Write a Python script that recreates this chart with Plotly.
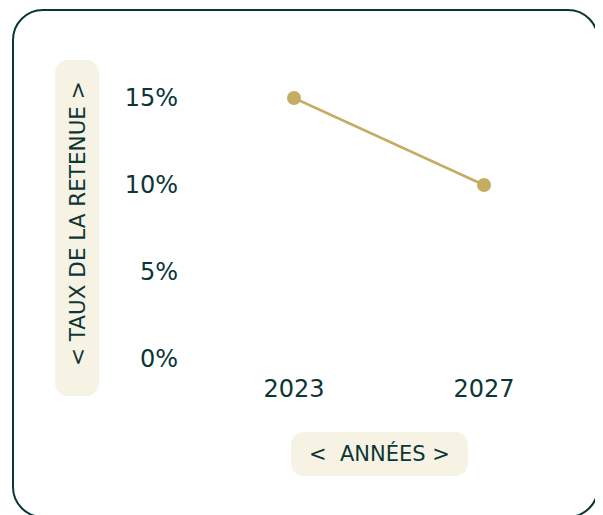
import plotly.graph_objects as go

years = ["2023", "2027"]
rates = [15, 10]
y_ticks = [0, 5, 10, 15]
y_tick_labels = ["0%", "5%", "10%", "15%"]

OFF = 8  # page body margin offset
W, H = 603 - OFF, 515 - OFF
L, R, T, B = 199 - OFF, 24, 98 - OFF, 156
PW, PH = W - L - R, H - T - B

DARK = "#0c3636"
GOLD = "#c4ac63"
CREAM = "#f7f3e4"
FONT = "DejaVu Sans"

def px(x):
    return (x - OFF - L) / PW

def py(y):
    return (H - B - (y - OFF)) / PH

def rrect(x0, y0, x1, y1, r):
    k = 0.5523 * r
    pts = [
        f"M {px(x0 + r)},{py(y0)}",
        f"L {px(x1 - r)},{py(y0)}",
        f"C {px(x1 - r + k)},{py(y0)} {px(x1)},{py(y0 + r - k)} {px(x1)},{py(y0 + r)}",
        f"L {px(x1)},{py(y1 - r)}",
        f"C {px(x1)},{py(y1 - r + k)} {px(x1 - r + k)},{py(y1)} {px(x1 - r)},{py(y1)}",
        f"L {px(x0 + r)},{py(y1)}",
        f"C {px(x0 + r - k)},{py(y1)} {px(x0)},{py(y1 - r + k)} {px(x0)},{py(y1 - r)}",
        f"L {px(x0)},{py(y0 + r)}",
        f"C {px(x0)},{py(y0 + r - k)} {px(x0 + r - k)},{py(y0)} {px(x0 + r)},{py(y0)}",
        "Z",
    ]
    return " ".join(pts)

fig = go.Figure()
fig.add_trace(go.Scatter(
    x=years, y=rates, mode="lines+markers",
    line=dict(color=GOLD, width=2.5),
    marker=dict(color=GOLD, size=14),
    cliponaxis=False, hoverinfo="skip",
))

shapes = [
    dict(type="path", xref="paper", yref="paper", path=rrect(13, 10, 598, 517, 30),
         line=dict(color=DARK, width=2), fillcolor="rgba(0,0,0,0)", layer="below"),
    dict(type="path", xref="paper", yref="paper", path=rrect(55, 60, 99, 396, 13),
         line=dict(width=0), fillcolor=CREAM, layer="below"),
    dict(type="path", xref="paper", yref="paper", path=rrect(291, 432, 468, 476, 13),
         line=dict(width=0), fillcolor=CREAM, layer="below"),
]

annotations = [
    dict(text="&lt; TAUX DE LA RETENUE &gt;", x=px(77), y=py(224), xref="paper", yref="paper",
         textangle=-90, showarrow=False, font=dict(family=FONT, size=21.5, color=DARK),
         xanchor="center", yanchor="middle"),
    dict(text="&lt;  ANNÉES &gt;", x=px(379.5), y=py(453), xref="paper", yref="paper",
         showarrow=False, font=dict(family=FONT, size=21, color=DARK),
         xanchor="center", yanchor="middle"),
]

fig.update_layout(
    width=W, height=H, autosize=False,
    margin=dict(l=L, r=R, t=T, b=B, pad=0),
    paper_bgcolor="white", plot_bgcolor="white",
    showlegend=False,
    shapes=shapes, annotations=annotations,
    font=dict(family=FONT, color=DARK),
    xaxis=dict(type="category", categoryorder="array", categoryarray=years,
               range=[-0.5, 1.5], showgrid=False, zeroline=False, showline=False,
               ticks="", ticklabelstandoff=13,
               tickfont=dict(family=FONT, size=24, color=DARK), fixedrange=True),
    yaxis=dict(range=[0, 15], tickvals=y_ticks, ticktext=y_tick_labels,
               showgrid=False, zeroline=False, showline=False,
               ticks="", ticklabelstandoff=20,
               tickfont=dict(family=FONT, size=24, color=DARK), fixedrange=True),
)

fig.write_html("out.html", config={"displayModeBar": False})
